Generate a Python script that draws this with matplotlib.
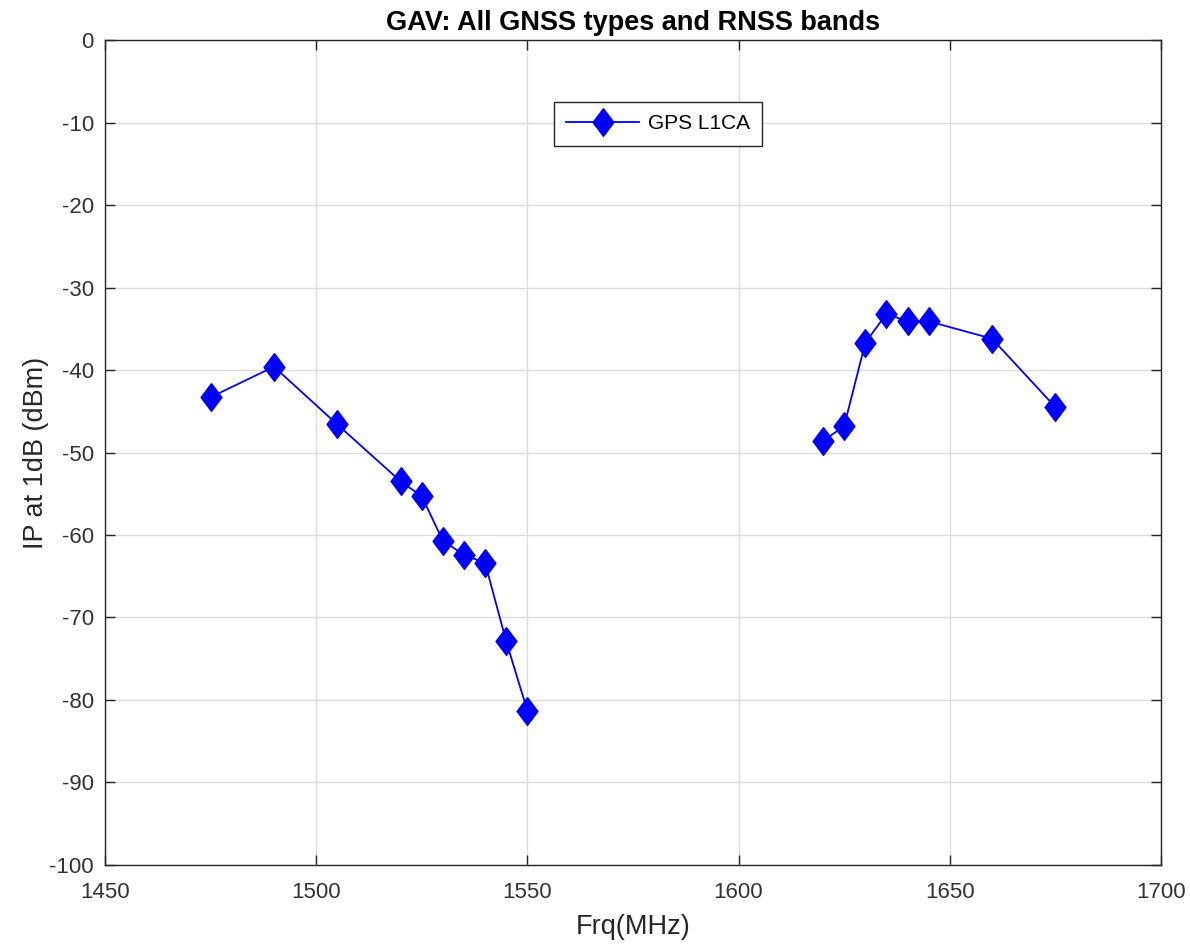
import numpy as np
import matplotlib
matplotlib.use('Agg')
import matplotlib.pyplot as plt

# Data
freq_mhz = [1475, 1490, 1505, 1520, 1525, 1530, 1535, 1540, 1545, 1550,
            np.nan,
            1620, 1625, 1630, 1635, 1640, 1645, 1660, 1675]
ip_1db = [-43.3, -39.6, -46.6, -53.5, -55.3, -60.7, -62.4, -63.4, -72.9, -81.3,
          np.nan,
          -48.6, -46.8, -36.7, -33.2, -34.1, -34.1, -36.2, -44.5]
series_label = 'GPS L1CA'

plt.rcParams['font.family'] = ['Liberation Sans', 'DejaVu Sans']
plt.rcParams['axes.unicode_minus'] = False

# MATLAB-style diamond marker (taller than wide)
diamond = [(0, 1), (0.75, 0), (0, -1), (-0.75, 0), (0, 1)]

fig = plt.figure(figsize=(11.9, 9.44), dpi=100)
ax = fig.add_axes([0.0882, 0.0837, 0.8874, 0.8739])

ax.plot(
    freq_mhz, ip_1db,
    color='#0000ff',
    linewidth=1.3,
    marker=diamond,
    markersize=20,
    markerfacecolor='#0000ff',
    markeredgecolor='#0000ff',
    label=series_label
    )

ax.set_xlim(1450, 1700)
ax.set_ylim(-100, 0)
ax.set_xticks(np.arange(1450, 1701, 50))
ax.set_yticks(np.arange(-100, 1, 10))

ax.grid(True, color='#dcdcdc', linewidth=1)
ax.set_axisbelow(True)
for spine in ax.spines.values():
    spine.set_color('#262626')
    spine.set_linewidth(1)
ax.tick_params(
    direction='in', top=True, right=True,
    length=7, width=1, colors='#262626',
    labelsize=16, labelcolor='#333333'
    )
ax.tick_params(axis='x', pad=12)
ax.tick_params(axis='y', pad=8)

ax.set_title('GAV: All GNSS types and RNSS bands',
             fontsize=19.5, fontweight='bold', color='black', pad=7)
ax.set_xlabel('Frq(MHz)', fontsize=19.5, color='#262626', labelpad=8)
ax.set_ylabel('IP at 1dB (dBm)', fontsize=19.5, color='#262626', labelpad=0)

legend = ax.legend(
    loc='upper center',
    bbox_to_anchor=(0.5237, 0.925),
    borderaxespad=0,
    fontsize=15,
    frameon=True,
    fancybox=False,
    framealpha=1,
    edgecolor='#262626',
    handlelength=3.5,
    handletextpad=0.4,
    borderpad=0.6
    )
legend.get_frame().set_linewidth(1)

fig.savefig('out.png', dpi=100)
